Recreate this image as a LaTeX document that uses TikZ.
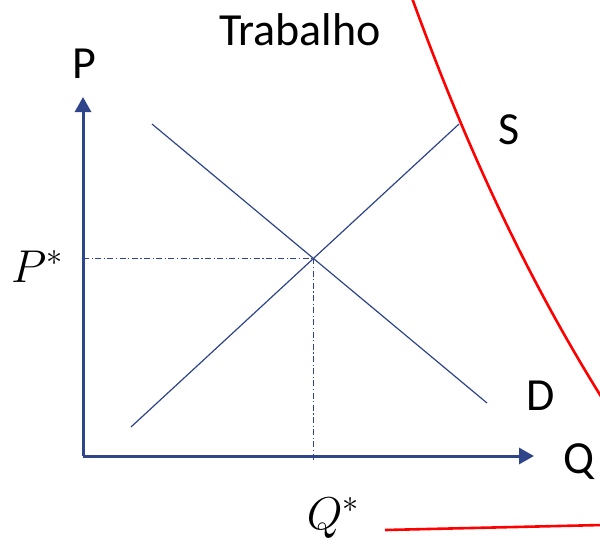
\RequirePackage{fix-cm}
\documentclass[tikz,border=0pt]{standalone}
\usepackage{fontspec}
\setmainfont{Carlito}
\usepackage{xcolor}
\usepackage{tikz}
\usetikzlibrary{arrows.meta}
\definecolor{axisblue}{RGB}{47,69,138}
\definecolor{curvered}{RGB}{255,0,0}
\tikzset{
  axis/.style={axisblue, line width=3pt, -{Triangle[length=15pt,width=16pt]}},
  curve/.style={axisblue, line width=1.2pt},
  eqline/.style={axisblue, line width=1.1pt, dash pattern=on 6pt off 2.5pt on 1.2pt off 2.5pt},
  bigred/.style={curvered, line width=2.6pt},
  lbl/.style={inner sep=0pt, anchor=base, font=\fontsize{46}{50}\selectfont}
}

\begin{document}
\begin{tikzpicture}[x=1pt, y=-1pt]
\useasboundingbox[fill=white] (0,0) rectangle (600,539);
\clip (0,0) rectangle (600,539);
\coordinate (O) at (83,456);
\coordinate (ytip) at (83,97);
\coordinate (xtip) at (534,456);
\coordinate (d1) at (152,124);
\coordinate (d2) at (487,403);
\coordinate (s1) at (131,427);
\coordinate (s2) at (459,124);
\coordinate (E) at (intersection of d1--d2 and s1--s2);
\coordinate (qfoot) at (313,462);
% the red curves
\draw [bigred] (412,-2) .. controls (460,130) and (519,265) .. (602,398);
\draw [bigred] (385,530) -- (602,525);
\draw [axis] (O) -- (ytip);
\draw [axis] (O) -- (xtip);
\draw [curve] (d1) -- (d2);
\draw [curve] (s1) -- (s2);
\draw [eqline] (O |- E) -- (E);
\draw [eqline] (E) -- (E |- qfoot);
\node [lbl] (title) at (300,45) {Trabalho};
\node [lbl] (plabel) at (84.5,78) {P};
\node [lbl] (qlabel) at (579,473) {Q};
\node [lbl] (slabel) at (509.5,144) {S};
\node [lbl] (dlabel) at (540.5,410) {D};
\node [lbl] (pstar) at (37,282) {$P^{*}$};
\node [lbl] (qstar) at (333,529) {$Q^{*}$};
\end{tikzpicture}
\end{document}
